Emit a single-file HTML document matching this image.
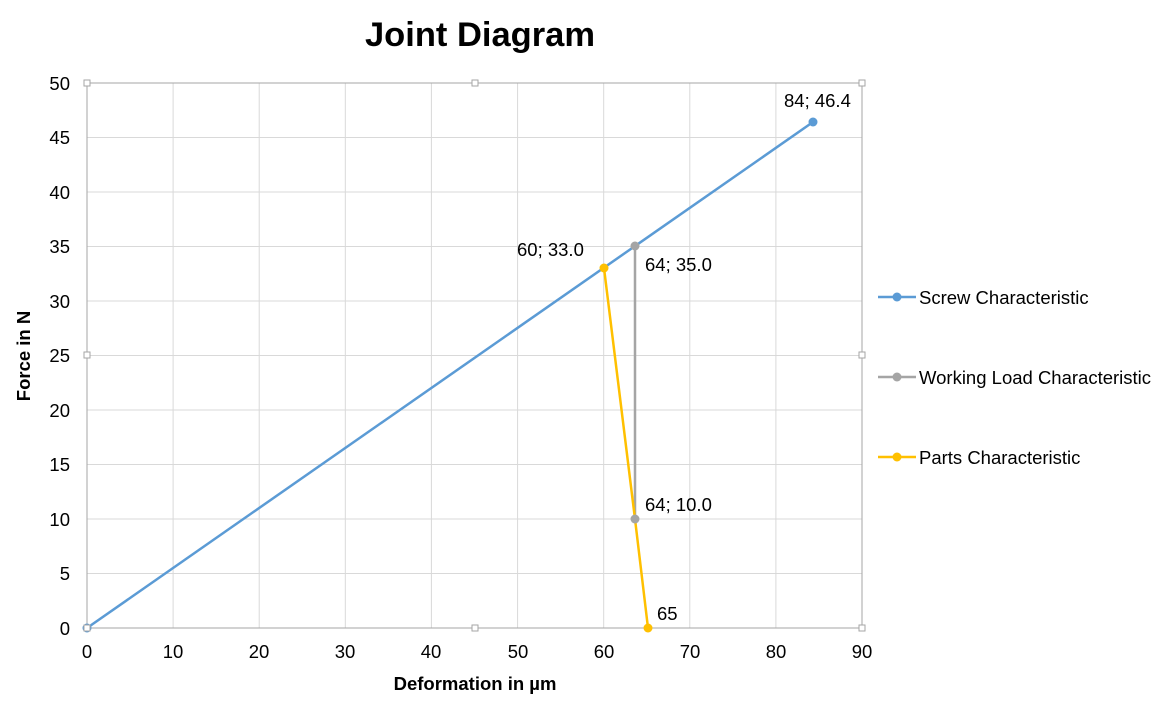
<!DOCTYPE html>
<html><head><meta charset="utf-8"><style>body{margin:0;background:#fff}svg{display:block}text{font-family:"Liberation Sans",Arial,sans-serif}</style></head><body>
<svg width="1175" height="717" viewBox="0 0 1175 717">
<text x="480" y="46" font-size="34.5" font-weight="bold" text-anchor="middle">Joint Diagram</text>
<g stroke="#d9d9d9" stroke-width="1">
<line x1="87" y1="83" x2="862" y2="83"/><line x1="87" y1="137.5" x2="862" y2="137.5"/><line x1="87" y1="192" x2="862" y2="192"/><line x1="87" y1="246.5" x2="862" y2="246.5"/><line x1="87" y1="301" x2="862" y2="301"/><line x1="87" y1="355.5" x2="862" y2="355.5"/><line x1="87" y1="410" x2="862" y2="410"/><line x1="87" y1="464.5" x2="862" y2="464.5"/><line x1="87" y1="519" x2="862" y2="519"/><line x1="87" y1="573.5" x2="862" y2="573.5"/>
<line x1="173.1" y1="83" x2="173.1" y2="628"/><line x1="259.2" y1="83" x2="259.2" y2="628"/><line x1="345.3" y1="83" x2="345.3" y2="628"/><line x1="431.4" y1="83" x2="431.4" y2="628"/><line x1="517.6" y1="83" x2="517.6" y2="628"/><line x1="603.7" y1="83" x2="603.7" y2="628"/><line x1="689.8" y1="83" x2="689.8" y2="628"/><line x1="775.9" y1="83" x2="775.9" y2="628"/>
</g>
<rect x="87" y="83" width="775" height="545" fill="none" stroke="#a6a6a6"/>
<g font-size="18.5" text-anchor="end">
<text x="70" y="90">50</text><text x="70" y="144">45</text><text x="70" y="199">40</text><text x="70" y="253">35</text><text x="70" y="308">30</text><text x="70" y="362">25</text><text x="70" y="417">20</text><text x="70" y="471">15</text><text x="70" y="526">10</text><text x="70" y="580">5</text><text x="70" y="635">0</text>
</g>
<g font-size="18.5" text-anchor="middle">
<text x="87" y="658">0</text><text x="173" y="658">10</text><text x="259" y="658">20</text><text x="345" y="658">30</text><text x="431" y="658">40</text><text x="518" y="658">50</text><text x="604" y="658">60</text><text x="690" y="658">70</text><text x="776" y="658">80</text><text x="862" y="658">90</text>
</g>
<text x="475" y="690" font-size="18.5" font-weight="bold" text-anchor="middle">Deformation in µm</text>
<text transform="translate(30,356) rotate(-90)" font-size="18.5" font-weight="bold" text-anchor="middle">Force in N</text>
<polyline points="87,628 813,122" fill="none" stroke="#5b9bd5" stroke-width="2.5"/>
<polyline points="635,246 635,519" fill="none" stroke="#a5a5a5" stroke-width="2.5"/>
<polyline points="604,268 635,519 648,628" fill="none" stroke="#ffc000" stroke-width="2.5"/>
<g fill="#5b9bd5"><circle cx="87" cy="628" r="4.5"/><circle cx="813" cy="122" r="4.5"/></g>
<g fill="#a5a5a5"><circle cx="635" cy="246" r="4.5"/><circle cx="635" cy="519" r="4.5"/></g>
<g fill="#ffc000"><circle cx="604" cy="268" r="4.5"/><circle cx="648" cy="628" r="4.5"/></g>
<g fill="#fff" stroke="#a6a6a6"><rect x="84" y="80" width="6" height="6"/><rect x="472" y="80" width="6" height="6"/><rect x="859" y="80" width="6" height="6"/><rect x="84" y="352" width="6" height="6"/><rect x="859" y="352" width="6" height="6"/><rect x="84" y="625" width="6" height="6"/><rect x="472" y="625" width="6" height="6"/><rect x="859" y="625" width="6" height="6"/></g>
<g font-size="18.5">
<text x="784" y="107">84; 46.4</text><text x="517" y="256">60; 33.0</text><text x="645" y="271">64; 35.0</text><text x="645" y="511">64; 10.0</text><text x="657" y="620">65</text>
</g>
<g stroke-width="2.5"><line x1="878" y1="297" x2="916" y2="297" stroke="#5b9bd5"/><line x1="878" y1="377" x2="916" y2="377" stroke="#a5a5a5"/><line x1="878" y1="457" x2="916" y2="457" stroke="#ffc000"/></g>
<circle cx="897" cy="297" r="4.5" fill="#5b9bd5"/><circle cx="897" cy="377" r="4.5" fill="#a5a5a5"/><circle cx="897" cy="457" r="4.5" fill="#ffc000"/>
<g font-size="18.5"><text x="919" y="304">Screw Characteristic</text><text x="919" y="384">Working Load Characteristic</text><text x="919" y="464">Parts Characteristic</text></g>
</svg>
</body></html>
